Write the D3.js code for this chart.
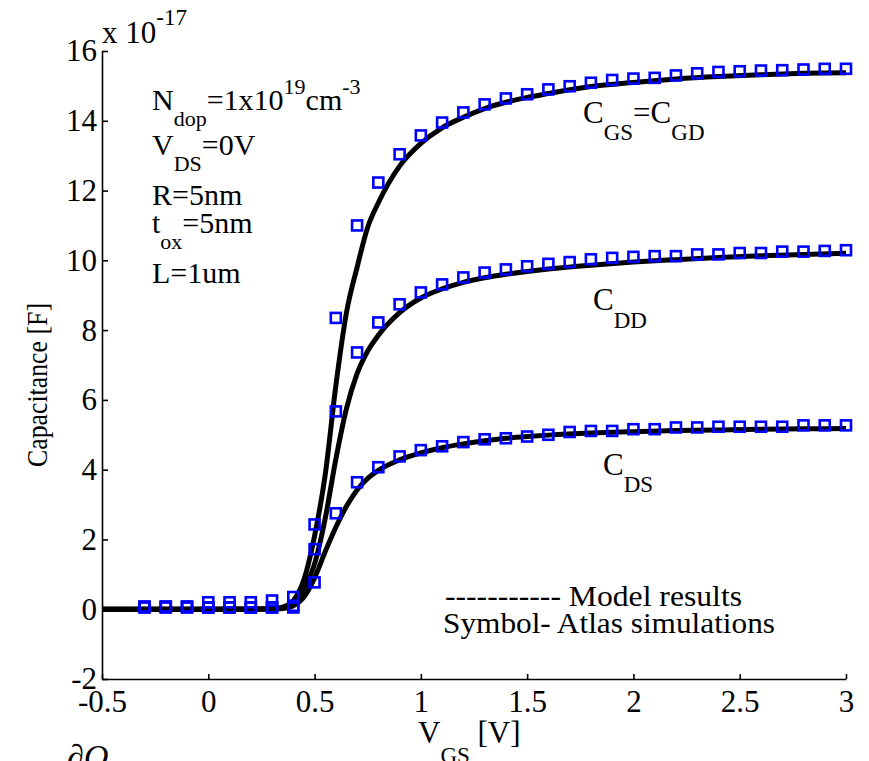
<!DOCTYPE html>
<html>
<head>
<meta charset="utf-8">
<script src="https://cdn.jsdelivr.net/npm/d3@7"></script>
</head>
<body style="margin:0; background:#fff">
<svg id="chart" width="869" height="761"></svg>
<script>
// simulation points (Atlas), units of 1e-17 F
const vgs = [-0.3, -0.2, -0.1, 0, 0.1, 0.2, 0.3, 0.4, 0.5, 0.6, 0.7, 0.8, 0.9, 1.0, 1.1, 1.2, 1.3,
  1.4, 1.5, 1.6, 1.7, 1.8, 1.9, 2.0, 2.1, 2.2, 2.3, 2.4, 2.5, 2.6, 2.7, 2.8, 2.9, 3.0]
const cgsSim = [0.08, 0.08, 0.08, 0.2, 0.2, 0.2, 0.25, 0.35, 2.43, 8.35, 11.0, 12.23, 13.04, 13.58, 13.95, 14.24, 14.47,
  14.64, 14.76, 14.9, 14.99, 15.09, 15.17, 15.21, 15.23, 15.3, 15.36, 15.4, 15.42, 15.44, 15.45, 15.47, 15.49, 15.49]
const cddSim = [0.06, 0.06, 0.06, 0.05, 0.05, 0.05, 0.05, 0.1, 1.72, 5.67, 7.36, 8.22, 8.74, 9.08, 9.31, 9.51, 9.65,
  9.74, 9.83, 9.9, 9.95, 10.03, 10.07, 10.1, 10.12, 10.12, 10.17, 10.17, 10.21, 10.21, 10.25, 10.25, 10.27, 10.29]
const cdsSim = [0.05, 0.05, 0.05, 0.05, 0.05, 0.05, 0.05, 0.05, 0.77, 2.75, 3.64, 4.07, 4.38, 4.56, 4.67, 4.79, 4.87,
  4.9, 4.95, 5.0, 5.08, 5.11, 5.11, 5.16, 5.16, 5.21, 5.21, 5.23, 5.23, 5.23, 5.23, 5.27, 5.27, 5.27]

// model curves
const modelV = [-0.5, 0, 0.3, 0.35, 0.4, 0.45, 0.5, 0.55, 0.6, 0.65, 0.7, 0.75, 0.8, 0.9, 1.0, 1.1, 1.2,
  1.3, 1.4, 1.5, 1.6, 1.8, 2.0, 2.2, 2.4, 2.6, 2.8, 3.0]
const cgsModel = [0, 0, 0.01, 0.06, 0.25, 0.85, 2.1, 3.85, 6.4, 8.5, 9.8, 10.95, 11.65, 12.7, 13.35, 13.8, 14.1,
  14.35, 14.53, 14.67, 14.78, 14.98, 15.1, 15.2, 15.27, 15.32, 15.36, 15.38]
const cddModel = [0, 0, 0.01, 0.05, 0.2, 0.6, 1.3, 2.6, 4.3, 5.75, 6.75, 7.4, 7.85, 8.5, 8.92, 9.18, 9.37,
  9.5, 9.6, 9.68, 9.75, 9.86, 9.95, 10.02, 10.08, 10.13, 10.17, 10.2]
const cdsModel = [0, 0, 0, 0.02, 0.1, 0.35, 0.9, 1.65, 2.35, 2.95, 3.42, 3.75, 3.98, 4.28, 4.48, 4.63, 4.74,
  4.83, 4.9, 4.95, 4.99, 5.05, 5.09, 5.12, 5.14, 5.16, 5.17, 5.18]

const xTicks = [-0.5, 0, 0.5, 1, 1.5, 2, 2.5, 3]
const yTicks = [-2, 0, 2, 4, 6, 8, 10, 12, 14, 16]

const svg = d3.select('#chart')

const x = d3.scaleLinear().domain([-0.5, 3]).range([102, 846])
const y = d3.scaleLinear().domain([-2, 16]).range([679, 51])

// axes, ticks pointing inward, plain hyphen for negatives
const xAxis = svg.append('g')
  .attr('transform', 'translate(0,679)')
  .call(d3.axisBottom(x).tickValues(xTicks).tickFormat(function(d) { return String(d) })
    .tickSizeInner(-5).tickSizeOuter(0).tickPadding(12))
const yAxis = svg.append('g')
  .attr('transform', 'translate(102,0)')
  .call(d3.axisLeft(y).tickValues(yTicks).tickFormat(function(d) { return String(d) })
    .tickSizeInner(-6).tickSizeOuter(0).tickPadding(5))

;[xAxis, yAxis].forEach(function(g) {
  g.attr('font-family', 'Liberation Serif').attr('font-size', 31)
  g.selectAll('path, line').attr('stroke', '#000').attr('stroke-width', 1.6)
  g.selectAll('text').attr('fill', '#000')
})
xAxis.selectAll('text').attr('dy', '0.68em')

// model lines
const line = d3.line()
  .x(function(d) { return x(d[0]) })
  .y(function(d) { return y(d[1]) })
  .curve(d3.curveMonotoneX)

;[cgsModel, cddModel, cdsModel].forEach(function(vals) {
  svg.append('path')
    .datum(modelV.map(function(v, i) { return [v, vals[i]] }))
    .attr('d', line)
    .attr('fill', 'none')
    .attr('stroke', '#000')
    .attr('stroke-width', 5)
})

// simulation markers
const sq = 10
;[cgsSim, cddSim, cdsSim].forEach(function(vals) {
  svg.append('g').selectAll('rect')
    .data(vgs.map(function(v, i) { return [v, vals[i]] }))
    .join('rect')
    .attr('x', function(d) { return x(d[0]) - sq / 2 })
    .attr('y', function(d) { return y(d[1]) - sq / 2 })
    .attr('width', sq)
    .attr('height', sq)
    .attr('fill', 'none')
    .attr('stroke', '#0000ff')
    .attr('stroke-width', 2.6)
})

// exponent label
const expo = svg.append('text').attr('x', 102).attr('y', 43).attr('font-size', 31)
expo.append('tspan').text('x 10')
expo.append('tspan').attr('dy', -18).attr('font-size', 23).text('-17')

// axis titles
svg.append('text')
  .attr('transform', 'translate(47,385) rotate(-90)')
  .attr('text-anchor', 'middle')
  .attr('font-size', 30)
  .attr('textLength', 164)
  .attr('lengthAdjust', 'spacingAndGlyphs')
  .text('Capacitance [F]')

const xt = svg.append('text').attr('x', 418).attr('y', 743).attr('font-size', 31)
xt.append('tspan').text('V')
xt.append('tspan').attr('dy', 20).attr('font-size', 23).text('GS')
xt.append('tspan').attr('dy', -20).text(' [V]')

// annotation block
const annSize = 30
function sub(t, main, s, rest) {
  t.append('tspan').text(main)
  t.append('tspan').attr('dy', 16).attr('font-size', 22).text(s)
  t.append('tspan').attr('dy', -16).text(rest)
  return t
}
const a1 = svg.append('text').attr('x', 152).attr('y', 110).attr('font-size', annSize)
a1.append('tspan').text('N')
a1.append('tspan').attr('dy', 16).attr('font-size', 22).text('dop')
a1.append('tspan').attr('dy', -16).text('=1x10')
a1.append('tspan').attr('dy', -16).attr('font-size', 22).text('19')
a1.append('tspan').attr('dy', 16).text('cm')
a1.append('tspan').attr('dy', -16).attr('font-size', 22).text('-3')

sub(svg.append('text').attr('x', 152).attr('y', 155).attr('font-size', annSize), 'V', 'DS', '=0V')
svg.append('text').attr('x', 152).attr('y', 205).attr('font-size', annSize).text('R=5nm')
sub(svg.append('text').attr('x', 152).attr('y', 233).attr('font-size', annSize), 't', 'ox', '=5nm')
svg.append('text').attr('x', 152).attr('y', 283).attr('font-size', annSize).text('L=1um')

// curve labels
const l1 = svg.append('text').attr('x', 583).attr('y', 123).attr('font-size', 31)
l1.append('tspan').text('C')
l1.append('tspan').attr('dy', 17).attr('font-size', 23).text('GS')
l1.append('tspan').attr('dy', -17).text('=C')
l1.append('tspan').attr('dy', 17).attr('font-size', 23).text('GD')

const l2 = svg.append('text').attr('x', 593).attr('y', 310).attr('font-size', 31)
l2.append('tspan').text('C')
l2.append('tspan').attr('dy', 18).attr('font-size', 23).text('DD')

const l3 = svg.append('text').attr('x', 603).attr('y', 475).attr('font-size', 31)
l3.append('tspan').text('C')
l3.append('tspan').attr('dy', 17).attr('font-size', 23).text('DS')

// legend note
svg.append('text').attr('x', 445).attr('y', 606).attr('font-size', 29)
  .attr('textLength', 297).attr('lengthAdjust', 'spacingAndGlyphs')
  .text('----------- Model results')
svg.append('text').attr('x', 443).attr('y', 633).attr('font-size', 29)
  .attr('textLength', 332).attr('lengthAdjust', 'spacingAndGlyphs')
  .text('Symbol- Atlas simulations')

// caption fragment cut by the bottom edge
svg.append('text').attr('x', 67).attr('y', 768).attr('font-size', 34)
  .attr('font-style', 'italic').text('∂Q')

// serif everywhere
svg.selectAll('text')
  .attr('font-family', 'Liberation Serif')
  .style('font-family', '"Liberation Serif"')
  .style('fill', '#000')
</script>
</body>
</html>
